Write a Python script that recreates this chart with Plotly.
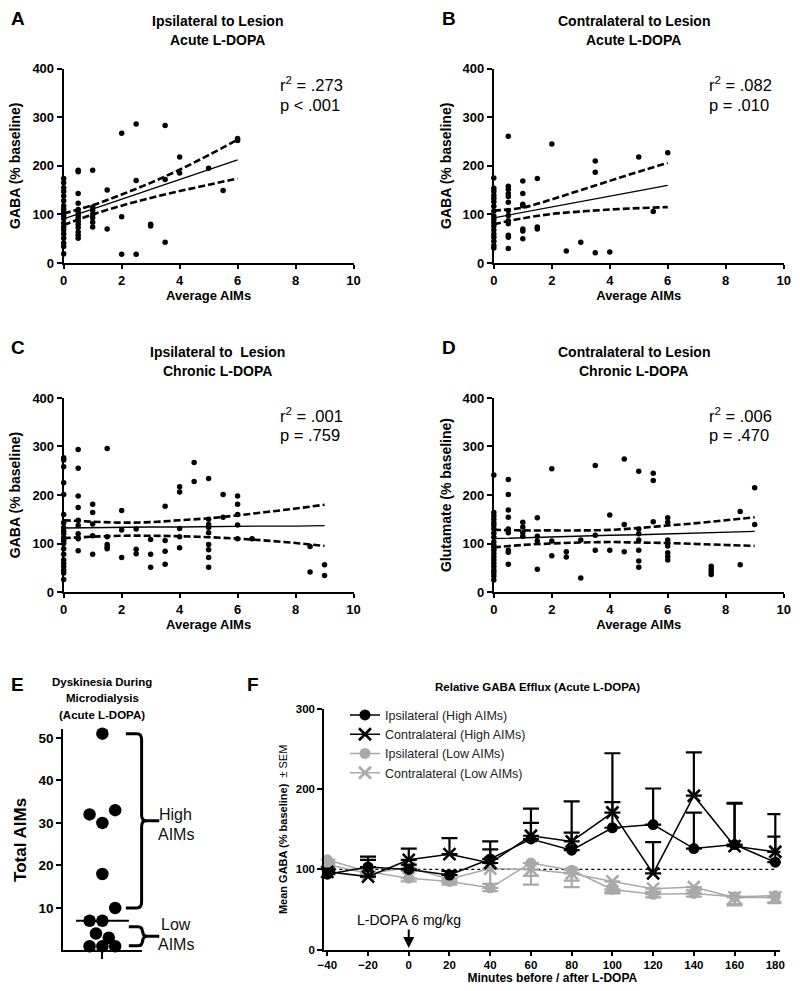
import numpy as np
import plotly.graph_objects as go

W, H = 800, 991
FONT = "Arial, Liberation Sans, Helvetica, sans-serif"

# ---------------- DATA ----------------
# Panel A: Ipsilateral, Acute L-DOPA  (Average AIMs -> GABA % baseline)
A_cols = {
    0: [174, 165, 155, 147, 138, 128, 118, 111, 105, 98, 91, 82, 74, 68, 60, 51, 41, 34, 19],
    0.5: [191, 188, 143, 123, 110, 104, 98, 92, 86, 80, 73, 64, 57, 51],
    1: [191, 115, 108, 100, 93, 84, 74],
    1.5: [150, 70],
    2: [267, 95, 18],
    2.5: [286, 170, 18],
    3: [80, 76],
    3.5: [283, 172, 43],
    4: [218, 185],
    5: [195],
    5.5: [149],
    6: [256, 252],
}
A_fit_x = [0, 1, 2, 3, 4, 5, 6]
A_fit = [91, 111, 131, 152, 172, 192, 212]
A_hi = [102, 119, 141, 165, 192, 222, 254]
A_lo = [78, 100, 118, 134, 148, 161, 174]
A_stats = ["r<sup>2</sup> = .273", "p < .001"]

# Panel B: Contralateral, Acute L-DOPA
B_cols = {
    0: [175, 154, 147, 139, 133, 126, 117, 107, 97, 90, 83, 76, 68, 60, 53, 45, 36, 31],
    0.5: [261, 158, 152, 143, 137, 125, 108, 98, 87, 81, 57, 53, 30],
    1: [169, 143, 121, 118, 70, 66, 50],
    1.5: [174, 74, 70],
    2: [245],
    2.5: [25],
    3: [43],
    3.5: [210, 187, 21],
    4: [23],
    5: [218],
    5.5: [106],
    6: [227],
}
B_fit_x = [0, 1, 2, 3, 4, 5, 6]
B_fit = [93, 104, 115, 127, 138, 149, 160]
B_hi = [108, 114, 131, 150, 169, 188, 206]
B_lo = [80, 92, 101, 106, 110, 113, 115]
B_stats = ["r<sup>2</sup> = .082", "p = .010"]

# Panel C: Ipsilateral, Chronic L-DOPA
C_cols = {
    0: [277, 272, 258, 225, 201, 160, 143, 133, 126, 120, 112, 106, 100, 89, 78, 66, 59, 52, 45, 39, 26],
    0.5: [294, 255, 198, 174, 148, 137, 120, 110, 85],
    1: [181, 164, 140, 116, 78],
    1.5: [296, 114, 98, 93, 89],
    2: [168, 128, 71],
    2.5: [130, 88, 79],
    3: [108, 78, 51],
    3.5: [177, 106, 84, 57],
    4: [217, 206, 131, 114, 91],
    4.5: [267, 228],
    5: [234, 150, 139, 133, 122, 98, 87, 71, 51],
    5.5: [201, 154],
    6: [198, 181, 160, 138, 110],
    6.5: [110],
    8.5: [94, 41],
    9: [56, 34],
}
C_fit_x = [0, 1, 2, 3, 4, 5, 6, 7, 8, 9]
C_fit = [132, 133, 133, 134, 134, 135, 135, 136, 136, 137]
C_hi = [148, 145, 143, 144, 148, 152, 158, 165, 172, 180]
C_lo = [111, 114, 116, 116, 115, 113, 110, 106, 101, 95]
C_stats = ["r<sup>2</sup> = .001", "p = .759"]

# Panel D: Contralateral, Chronic L-DOPA (Glutamate)
D_cols = {
    0: [241, 164, 157, 150, 143, 137, 130, 121, 113, 103, 96, 91, 86, 79, 72, 66, 59, 52, 45, 39, 33, 25],
    0.5: [232, 201, 169, 154, 130, 122, 86, 82, 57],
    1: [144, 134, 122, 115],
    1.5: [153, 115, 105, 47],
    2: [254, 105, 75],
    2.5: [83, 72],
    3: [107, 29],
    3.5: [261, 117, 86],
    4: [159, 86],
    4.5: [274, 139, 83],
    5: [249, 130, 120, 107, 86, 64, 51],
    5.5: [245, 230, 145],
    6: [153, 144, 107, 95, 81, 73, 66],
    7.5: [53, 47, 41, 36],
    8.5: [166, 56],
    9: [215, 139],
}
D_fit_x = [0, 1, 2, 3, 4, 5, 6, 7, 8, 9]
D_fit = [110, 112, 113, 115, 117, 118, 120, 122, 123, 125]
D_hi = [128, 127, 127, 127, 128, 132, 137, 142, 148, 154]
D_lo = [92, 97, 100, 102, 103, 102, 101, 99, 97, 95]
D_stats = ["r<sup>2</sup> = .006", "p = .470"]

# Panel E: Total AIMs during microdialysis
E_jitter = [0, -1, 1, 0, 0, 1, -1, 0, -0.5, 0.5, -1, 0, 1]
E_aims = [51, 32, 33, 30, 18, 10, 7, 7, 4, 3, 1, 1, 1]
E_high_range = [10, 51]
E_low_range = [1.1, 5.6]

# Panel F: Relative GABA efflux
F_time = [-40, -20, 0, 20, 40, 60, 80, 100, 120, 140, 160, 180]
F_ipsi_high = [94, 103, 100, 93, 113, 138, 124, 152, 156, 126, 131, 109]
F_ipsi_high_sem = [5, 13, 6, 5, 12, 20, 22, 32, 45, 45, 51, 32]
F_contra_high = [97, 91, 112, 119, 108, 142, 135, 171, 95, 192, 129, 122]
F_contra_high_sem = [4, 21, 14, 20, 27, 34, 50, 74, 39, 54, 54, 47]
F_ipsi_low = [112, 97, 89, 85, 77, 108, 99, 75, 69, 70, 66, 67]
F_ipsi_low_sem = [4, 4, 4, 4, 4, 16, 13, 5, 4, 4, 9, 8]
F_contra_low = [106, 95, 102, 88, 101, 100, 95, 85, 76, 78, 65, 65]
F_contra_low_sem = [4, 4, 4, 4, 19, 19, 17, 13, 4, 4, 10, 7]

# ---------------- LAYOUT HELPERS ----------------
def dx(p):
    return p / W

def dy(p):
    return 1 - p / H

GRAY = "#a9a9a9"

def flat(cols):
    xs, ys = [], []
    for k, v in cols.items():
        xs += [k] * len(v)
        ys += v
    return xs, ys

fig = go.Figure()

panels = [
    (A_cols, A_fit_x, A_fit, A_hi, A_lo, "x", "y"),
    (B_cols, B_fit_x, B_fit, B_hi, B_lo, "x2", "y2"),
    (C_cols, C_fit_x, C_fit, C_hi, C_lo, "x3", "y3"),
    (D_cols, D_fit_x, D_fit, D_hi, D_lo, "x4", "y4"),
]

for cols, fx, fy, fh, fl, xa, ya in panels:
    xs, ys = flat(cols)
    fig.add_trace(go.Scatter(x=xs, y=ys, mode="markers", xaxis=xa, yaxis=ya,
                             marker=dict(size=5.5, color="black"), cliponaxis=False,
                             showlegend=False, hoverinfo="skip"))
    fig.add_trace(go.Scatter(x=fx, y=fy, mode="lines", xaxis=xa, yaxis=ya,
                             line=dict(color="black", width=1.3), showlegend=False))
    for band in (fh, fl):
        fig.add_trace(go.Scatter(x=fx, y=band, mode="lines", xaxis=xa, yaxis=ya,
                                 line=dict(color="black", width=2.6, dash="7px,3px", shape="spline"),
                                 showlegend=False))

# Panel E
fig.add_trace(go.Scatter(x=E_jitter, y=E_aims, mode="markers", xaxis="x5", yaxis="y5",
                         marker=dict(size=12.5, color="black"), cliponaxis=False,
                         showlegend=False))
E_med = float(np.median(E_aims))
fig.add_trace(go.Scatter(x=[-2.06, 2.07], y=[E_med, E_med], mode="lines", xaxis="x5", yaxis="y5",
                         line=dict(color="black", width=2), showlegend=False))

# Panel F
def ftrace(y, sem, name, color, symbol, up, rank):
    err = dict(type="data", symmetric=False, color=color, thickness=2.2, width=8)
    if up:
        err.update(array=sem, arrayminus=[0] * len(sem))
    else:
        err.update(array=[0] * len(sem), arrayminus=sem)
    if symbol == "circle":
        mk = dict(symbol="circle", size=11, color=color)
    else:
        mk = dict(symbol="x-thin", size=12, color=color, line=dict(color=color, width=2.6))
    return go.Scatter(x=F_time, y=y, name=name, mode="lines+markers", xaxis="x6", yaxis="y6",
                      line=dict(color=color, width=1.5), marker=mk, error_y=err,
                      cliponaxis=False, legendrank=rank)

fig.add_trace(ftrace(F_contra_low, F_contra_low_sem, "Contralateral (Low AIMs)", GRAY, "x", False, 4))
fig.add_trace(ftrace(F_ipsi_low, F_ipsi_low_sem, "Ipsilateral (Low AIMs)", GRAY, "circle", False, 3))
fig.add_trace(ftrace(F_contra_high, F_contra_high_sem, "Contralateral (High AIMs)", "black", "x", True, 2))
fig.add_trace(ftrace(F_ipsi_high, F_ipsi_high_sem, "Ipsilateral (High AIMs)", "black", "circle", True, 1))

# ---------------- AXES ----------------
def axis(domain, rng, tickvals, title=None, fs=13, tfs=13, ticktext=None, standoff=None, ticklen=5):
    d = dict(domain=domain, range=rng, tickvals=tickvals, showline=True, linecolor="black",
             linewidth=2, ticks="outside", ticklen=ticklen, tickwidth=2, tickcolor="black",
             showgrid=False, zeroline=False, fixedrange=True,
             tickfont=dict(family=FONT, size=fs, color="black", weight="bold"))
    if ticktext is not None:
        d["ticktext"] = ticktext
    if title:
        t = dict(text=title, font=dict(family=FONT, size=tfs, color="black", weight="bold"))
        if standoff is not None:
            t["standoff"] = standoff
        d["title"] = t
    return d

xdomL = [dx(57.7), dx(352.7)]
xdomR = [dx(495.5), dx(790.5)]
ydomT = [dy(260), dy(62.5)]
ydomM = [dy(594), dy(397)]
xt = [0, 2, 4, 6, 8, 10]
yt = [0, 100, 200, 300, 400]

E_xr = [-3.05, 3.1]
E_yr = [0, 52]
E_xdom = [dx(57.3), dx(137.5)]
E_ydom = [dy(958), dy(733.5)]

# F: -40 at 326 px, 180 at 782 px; range padded slightly so end error bars are not clipped
F_xr = [-41.5, 182.5]
F_ppu = (782 - 326) / 220.0
F_xdom = [dx(326 + (F_xr[0] + 40) * F_ppu), dx(326 + (F_xr[1] + 40) * F_ppu)]
F_ydom = [dy(957), dy(713)]

layout = dict(
    width=W, height=H, margin=dict(l=0, r=0, t=0, b=0),
    paper_bgcolor="white", plot_bgcolor="white",
    font=dict(family=FONT, color="black"),
    xaxis=dict(axis(xdomL, [0, 10], xt, "Average AIMs", standoff=1, ticklen=4), anchor="y"),
    yaxis=dict(axis(ydomT, [0, 400], yt, "GABA (% baseline)", tfs=14, standoff=8), anchor="x"),
    xaxis2=dict(axis(xdomR, [0, 10], xt, "Average AIMs", standoff=1, ticklen=4), anchor="y2"),
    yaxis2=dict(axis(ydomT, [0, 400], yt, "GABA (% baseline)", tfs=14, standoff=8), anchor="x2"),
    xaxis3=dict(axis(xdomL, [0, 10], xt, "Average AIMs", standoff=1, ticklen=4), anchor="y3"),
    yaxis3=dict(axis(ydomM, [0, 400], yt, "GABA (% baseline)", tfs=14, standoff=8), anchor="x3"),
    xaxis4=dict(axis(xdomR, [0, 10], xt, "Average AIMs", standoff=1, ticklen=4), anchor="y4"),
    yaxis4=dict(axis(ydomM, [0, 400], yt, "Glutamate (% baseline)", tfs=14, standoff=8), anchor="x4"),
    xaxis5=dict(axis(E_xdom, E_xr, [0], ticktext=[""], ticklen=7), anchor="y5"),
    yaxis5=dict(axis(E_ydom, E_yr, [10, 20, 30, 40, 50], "Total AIMs", fs=13.5, tfs=17, standoff=8), anchor="x5"),
    xaxis6=dict(axis(F_xdom, F_xr, F_time, "Minutes before / after L-DOPA", fs=11.5, tfs=12, standoff=3, ticklen=4), anchor="y6"),
    yaxis6=dict(axis(F_ydom, [0, 300], [0, 100, 200, 300],
                     "<b>Mean GABA (% baseline)</b>  ± SEM", fs=11.5, tfs=11, standoff=6), anchor="x6"),
    legend=dict(x=dx(344), y=dy(704), xanchor="left", yanchor="top",
                font=dict(family=FONT, size=12.5, color="#222"), bgcolor="rgba(0,0,0,0)",
                itemwidth=30, tracegroupgap=0),
)
layout["yaxis6"]["title"]["font"]["weight"] = "normal"
fig.update_layout(**layout)

# dotted baseline on F
fig.add_shape(type="line", xref="x6", yref="y6", x0=-40, x1=180, y0=100, y1=100,
              line=dict(color="black", width=1.3, dash="dot"), layer="below")

# ---------------- TEXT ----------------
ann = []

def txt(x, y, s, size, bold=False, xanchor="center", color="black"):
    ann.append(dict(x=dx(x), y=dy(y), xref="paper", yref="paper", text=s, showarrow=False,
                    xanchor=xanchor, yanchor="middle",
                    font=dict(family=FONT, size=size, color=color, weight="bold" if bold else "normal")))

for L, (x, y) in {"A": (11, 12), "B": (450, 12), "C": (11, 346), "D": (450, 346),
                  "E": (11, 688), "F": (250, 688)}.items():
    txt(x, y, L, 19, True)

txt(214, 14, "Ipsilateral to Lesion", 14, True)
txt(214, 34, "Acute L-DOPA", 14, True)
txt(638, 14, "Contralateral to Lesion", 14, True)
txt(638, 34, "Acute L-DOPA", 14, True)
txt(214, 350, "Ipsilateral to  Lesion", 14, True)
txt(214, 370, "Chronic L-DOPA", 14, True)
txt(638, 350, "Contralateral to Lesion", 14, True)
txt(638, 370, "Chronic L-DOPA", 14, True)

for (x, y), st in zip([(276, 78), (712, 78), (276, 414), (712, 414)], [A_stats, B_stats, C_stats, D_stats]):
    txt(x, y, st[0], 16.5, xanchor="left")
    txt(x, y + 21, st[1], 16.5, xanchor="left")

txt(97, 685, "Dyskinesia During", 11.5, True)
txt(97, 702, "Microdialysis", 11.5, True)
txt(97, 719, "(Acute L-DOPA)", 11.5, True)
txt(540, 690, "Relative GABA Efflux (Acute L-DOPA)", 11.5, True)

txt(172, 820, "High", 16, color="#111")
txt(172, 840, "AIMs", 16, color="#111")
txt(172, 932, "Low", 16, color="#111")
txt(172, 952, "AIMs", 16, color="#111")

ann.append(dict(x=0, y=2, xref="x6", yref="y6", ax=0, ay=-28, text="L-DOPA 6 mg/kg",
                showarrow=True, arrowhead=2, arrowsize=1.1, arrowwidth=2, arrowcolor="black",
                font=dict(family=FONT, size=14, color="black")))
fig.update_layout(annotations=ann)

# braces for panel E (computed through panel E's axis mapping)
def e_py(yv):
    return E_ydom[0] + (yv - E_yr[0]) / (E_yr[1] - E_yr[0]) * (E_ydom[1] - E_ydom[0])

def brace(lo, hi, x_tip, x_spine, x_mid):
    yt_, yb = e_py(hi), e_py(lo)
    ym = (yt_ + yb) / 2
    r = 0.006
    xs = dx(x_spine)
    xt_ = dx(x_tip)
    xm = dx(x_mid)
    rx = 0.006
    p = (f"M {xt_},{yt_} L {xs - rx},{yt_} Q {xs},{yt_} {xs},{yt_ - r} "
         f"L {xs},{ym + r} Q {xs},{ym} {xs + rx},{ym} L {xm},{ym} "
         f"M {xs + rx},{ym} Q {xs},{ym} {xs},{ym - r} "
         f"L {xs},{yb + r} Q {xs},{yb} {xs - rx},{yb} L {xt_},{yb}")
    fig.add_shape(type="path", xref="paper", yref="paper", path=p,
                  line=dict(color="black", width=3))

brace(E_high_range[0], E_high_range[1], 121, 137, 155)
brace(E_low_range[0], E_low_range[1], 124, 138, 155)

fig.write_html("out.html", config={"displayModeBar": False},
               post_script="document.body.style.margin='0px';")
